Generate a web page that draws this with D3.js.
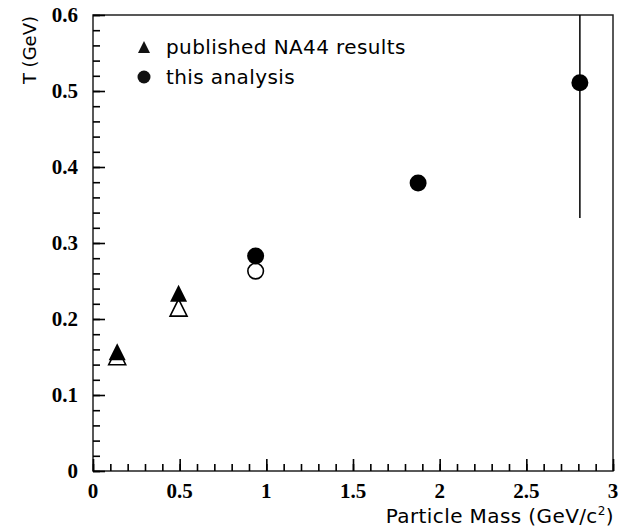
<!DOCTYPE html>
<html><head><meta charset="utf-8">
<script src="https://cdn.jsdelivr.net/npm/d3@7"></script>
<style>body{margin:0;background:#fff}svg{display:block}</style>
</head><body>
<svg id="c" width="629" height="531"></svg>
<script>
// data
const filledTriMass = [0.1396, 0.4937];
const filledTriT = [0.157, 0.234];
const openTriMass = [0.1396, 0.4937];
const openTriT = [0.151, 0.215];
const openCircMass = [0.9383];
const openCircT = [0.263];
const filledCircMass = [0.9383, 1.8756, 2.8089];
const filledCircT = [0.283, 0.379, 0.511];
const filledCircErr = [0.004, 0.006, 0.178];
const xTicks = [0, 0.5, 1, 1.5, 2, 2.5, 3];
const xTickLabels = ["0", "0.5", "1", "1.5", "2", "2.5", "3"];
const yTicks = [0, 0.1, 0.2, 0.3, 0.4, 0.5, 0.6];
const yTickLabels = ["0", "0.1", "0.2", "0.3", "0.4", "0.5", "0.6"];
const legendLabels = ["published NA44 results", "this analysis"];

const svg = d3.select("#c");
const L = 93, R = 613, T = 15, B = 471;
const x = d3.scaleLinear().domain([0, 3]).range([L, R]);
const y = d3.scaleLinear().domain([0, 0.6]).range([B, T]);

svg.append("defs").append("clipPath").attr("id", "clip")
  .append("rect").attr("x", L).attr("y", T).attr("width", R - L).attr("height", B - T);

// frame
svg.append("rect").attr("x", L).attr("y", T).attr("width", R - L).attr("height", B - T)
  .attr("fill", "none").attr("stroke", "#222").attr("stroke-width", 1.5);

// axes with minor ticks
const styleAxis = g => { g.select(".domain").remove(); g.selectAll("line").attr("stroke", "#000").attr("stroke-width", 1.6); };
const xMinor = d3.range(0, 3.0001, 0.1);
svg.append("g").attr("transform", `translate(0,${B})`)
  .call(d3.axisTop(x).tickValues(xMinor).tickSize(7).tickFormat("")).call(styleAxis);
svg.append("g").attr("transform", `translate(0,${B})`)
  .call(d3.axisTop(x).tickValues(xTicks).tickSize(12).tickFormat("")).call(styleAxis);
const yMinor = d3.range(0, 0.6001, 0.02);
svg.append("g").attr("transform", `translate(${L},0)`)
  .call(d3.axisRight(y).tickValues(yMinor).tickSize(7).tickFormat("")).call(styleAxis);
svg.append("g").attr("transform", `translate(${L},0)`)
  .call(d3.axisRight(y).tickValues(yTicks).tickSize(12).tickFormat("")).call(styleAxis);

// tick labels
const tf = "'Liberation Serif', 'Times New Roman', serif";
svg.append("g").selectAll("text").data(xTicks).join("text")
  .attr("x", d => x(d)).attr("y", 498).attr("text-anchor", "middle")
  .attr("font-family", tf).attr("font-weight", "bold").attr("font-size", 21)
  .text((d, i) => xTickLabels[i]);
svg.append("g").selectAll("text").data(yTicks).join("text")
  .attr("x", 78).attr("y", d => y(d)).attr("dy", "0.33em").attr("text-anchor", "end")
  .attr("font-family", tf).attr("font-weight", "bold").attr("font-size", 21)
  .text((d, i) => yTickLabels[i]);

// axis titles
const sf = "'DejaVu Sans', 'Liberation Sans', sans-serif";
svg.append("text").attr("x", 614).attr("y", 523).attr("text-anchor", "end")
  .attr("font-family", sf).attr("font-size", 20).attr("letter-spacing", 0.4)
  .html("Particle Mass (GeV/c<tspan dy='-8' font-size='12'>2</tspan><tspan dy='8'>)</tspan>");
svg.append("text").attr("transform", "translate(36,16) rotate(-90)").attr("text-anchor", "end")
  .attr("font-family", sf).attr("font-size", 18).text("T (GeV)");

// markers
const triPath = (s) => `M0,${-s/2}L${s/2},${s/2}L${-s/2},${s/2}Z`;
const plot = svg.append("g");
// error bars
plot.append("g").attr("clip-path", "url(#clip)").selectAll("line").data(filledCircMass).join("line")
  .attr("x1", d => x(d)).attr("x2", d => x(d))
  .attr("y1", (d, i) => y(filledCircT[i] - filledCircErr[i]))
  .attr("y2", (d, i) => y(filledCircT[i] + filledCircErr[i]))
  .attr("stroke", "#000").attr("stroke-width", 1.5);
plot.append("g").selectAll("path").data(openTriMass).join("path")
  .attr("transform", (d, i) => `translate(${x(d)},${y(openTriT[i])})`)
  .attr("d", triPath(17)).attr("fill", "#fff").attr("stroke", "#000").attr("stroke-width", 1.6);
plot.append("g").selectAll("circle").data(openCircMass).join("circle")
  .attr("cx", d => x(d)).attr("cy", (d, i) => y(openCircT[i])).attr("r", 7.8)
  .attr("fill", "#fff").attr("stroke", "#000").attr("stroke-width", 1.6);
plot.append("g").selectAll("path").data(filledTriMass).join("path")
  .attr("transform", (d, i) => `translate(${x(d)},${y(filledTriT[i])})`)
  .attr("d", triPath(17)).attr("fill", "#000");
plot.append("g").selectAll("circle").data(filledCircMass).join("circle")
  .attr("cx", d => x(d)).attr("cy", (d, i) => y(filledCircT[i])).attr("r", 8.5)
  .attr("fill", "#000");

// legend
const lg = svg.append("g");
lg.append("path").attr("transform", "translate(144,47)").attr("d", triPath(12)).attr("fill", "#111");
lg.append("circle").attr("cx", 144).attr("cy", 77).attr("r", 6.5).attr("fill", "#111");
lg.selectAll("text.l").data(legendLabels).join("text").attr("class", "l")
  .attr("x", 166).attr("y", (d, i) => 47 + i * 30).attr("dy", "0.35em")
  .attr("font-family", sf).attr("font-size", 20).attr("letter-spacing", 0.4).text(d => d);
</script>
</body></html>
